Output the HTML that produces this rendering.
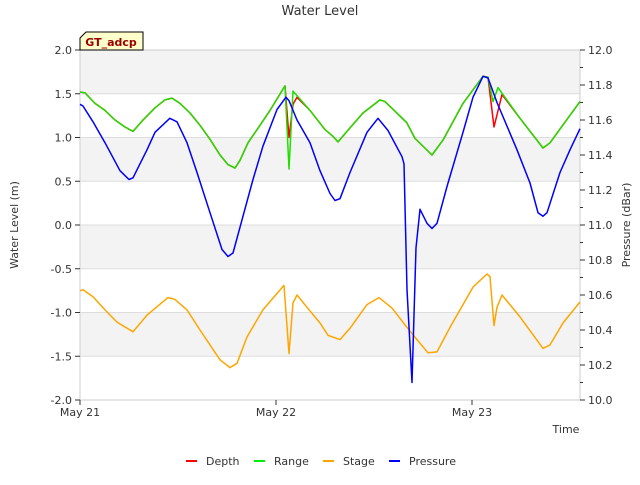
<!DOCTYPE html>
<html><head><meta charset="utf-8"><style>
body{margin:0;background:#fff}
svg text{font-family:"DejaVu Sans","Liberation Sans",sans-serif;}
</style></head><body>
<svg id="c" width="640" height="480" viewBox="0 0 640 480" xmlns="http://www.w3.org/2000/svg">
<text x="320" y="15" text-anchor="middle" font-size="13" fill="#333">Water Level</text>
<g id="bands"></g>
<g id="grid"></g>
<rect x="80" y="50" width="500" height="350" fill="none" stroke="#ccc"/>
<g id="axes"></g>
<g id="series"></g>
<g>
<path d="M86 32 L143 32 L143 50 L80 50 L80 38 Z" fill="#ffffcc" stroke="#000"/>
<text x="111" y="46" text-anchor="middle" font-size="11" font-weight="bold" fill="#990000">GT_adcp</text>
</g>
<text transform="translate(18,225) rotate(-90)" text-anchor="middle" font-size="11" fill="#333">Water Level (m)</text>
<text transform="translate(630,225) rotate(-90)" text-anchor="middle" font-size="11" fill="#333">Pressure (dBar)</text>
<text x="566" y="433" text-anchor="middle" font-size="11" fill="#333">Time</text>
<g id="legend"></g>
</svg>
<script>
const xTickLabels=["May 21","May 22","May 23"];
const xTickHours=[0,24,48];
const yTicks=[-2.0,-1.5,-1.0,-0.5,0.0,0.5,1.0,1.5,2.0];
const y2Ticks=[10.0,10.2,10.4,10.6,10.8,11.0,11.2,11.4,11.6,11.8,12.0];
const rangeT=[0,0.61,1.84,3.06,4.29,5.51,6.49,7.71,9.18,10.4,11.27,12.24,13.47,14.69,15.92,17.14,18.12,18.98,19.59,20.57,22.04,23.27,25.1,25.59,26.08,28.16,30.0,31.0,31.59,33.06,34.65,36.73,37.35,40.0,41.02,43.1,44.45,46.9,49.35,49.96,50.57,51.18,53.88,56.69,57.55,61.22];
const rangeV=[1.52,1.51,1.39,1.31,1.2,1.12,1.07,1.2,1.34,1.43,1.45,1.39,1.28,1.14,0.98,0.8,0.69,0.65,0.74,0.94,1.14,1.31,1.59,0.64,1.53,1.31,1.09,1.01,0.95,1.11,1.28,1.43,1.41,1.17,0.99,0.8,0.97,1.39,1.7,1.69,1.41,1.57,1.22,0.88,0.94,1.41];
const depthT=[0,0.61,1.84,3.06,4.29,5.51,6.49,7.71,9.18,10.4,11.27,12.24,13.47,14.69,15.92,17.14,18.12,18.98,19.59,20.57,22.04,23.27,25.1,25.59,26.08,26.57,28.16,30.0,31.0,31.59,33.06,34.65,36.73,37.35,40.0,41.02,43.1,44.45,46.9,49.35,49.96,50.69,51.67,53.88,56.69,57.55,61.22];
const depthV=[1.52,1.51,1.39,1.31,1.2,1.12,1.07,1.2,1.34,1.43,1.45,1.39,1.28,1.14,0.98,0.8,0.69,0.65,0.74,0.94,1.14,1.31,1.59,1.0,1.38,1.46,1.31,1.09,1.01,0.95,1.11,1.28,1.43,1.41,1.17,0.99,0.8,0.97,1.39,1.7,1.69,1.12,1.49,1.22,0.88,0.94,1.41];
const stageT=[0,0.37,1.59,3.06,4.53,6.49,8.2,10.78,11.63,13.1,14.69,17.14,18.37,19.22,20.45,22.4,24.98,25.59,26.08,26.57,27.8,29.39,30.37,31.84,33.06,35.14,36.61,38.2,40.04,41.27,42.61,43.71,45.31,48.12,49.84,50.2,50.69,51.06,51.67,53.88,56.69,57.55,59.14,61.22];
const stageV=[-0.75,-0.74,-0.82,-0.97,-1.11,-1.22,-1.03,-0.83,-0.85,-0.97,-1.2,-1.54,-1.63,-1.58,-1.28,-0.97,-0.69,-1.47,-0.89,-0.8,-0.94,-1.12,-1.26,-1.31,-1.18,-0.91,-0.83,-0.95,-1.17,-1.31,-1.46,-1.45,-1.17,-0.71,-0.56,-0.59,-1.15,-0.94,-0.8,-1.05,-1.41,-1.37,-1.12,-0.88];
const presT=[0,0.37,1.59,3.06,4.9,6.0,6.49,8.2,9.18,11.0,11.88,13.1,14.33,15.92,17.39,18.12,18.73,19.96,21.18,22.4,24.12,25.22,25.59,26.57,28.16,29.39,30.61,31.22,31.84,33.06,35.14,36.49,37.71,39.43,39.67,40.04,40.65,41.14,41.63,42.49,43.1,43.71,44.94,46.9,48.12,49.35,49.96,51.06,53.51,55.1,56.08,56.69,57.18,58.78,60.0,61.22];
const presV=[11.69,11.68,11.59,11.47,11.31,11.26,11.27,11.43,11.53,11.61,11.59,11.47,11.3,11.07,10.86,10.82,10.84,11.05,11.26,11.45,11.66,11.73,11.71,11.6,11.47,11.31,11.18,11.14,11.15,11.3,11.53,11.61,11.54,11.39,11.35,10.63,10.1,10.87,11.09,11.01,10.98,11.01,11.22,11.53,11.73,11.85,11.84,11.7,11.43,11.24,11.07,11.05,11.07,11.3,11.43,11.55];

const NS="http://www.w3.org/2000/svg";
const X=h=>80+h*196/24;
const Y=v=>225-v*87.5;
const Y2=v=>400-(v-10)*175;
function mk(tag,attrs,parent){const e=document.createElementNS(NS,tag);for(const k in attrs)e.setAttribute(k,attrs[k]);document.getElementById(parent).appendChild(e);return e;}
for(let i=0;i<4;i++){const v=2.0-i;
const r=mk('rect',{x:80,y:Y(v),width:500,height:Y(v-0.5)-Y(v),fill:'#f3f3f3'},'bands');

}
yTicks.forEach(v=>{
const l=mk('line',{x1:80,x2:580,y1:Y(v),y2:Y(v),stroke:'#ddd'},'grid');


mk('line',{x1:75,x2:80,y1:Y(v),y2:Y(v),stroke:'#333'},'axes');
const t=mk('text',{x:72,y:Y(v)+4,'text-anchor':'end','font-size':11,fill:'#333'},'axes');
t.textContent=v.toFixed(1);

});
y2Ticks.forEach(v=>{
mk('line',{x1:580,x2:585,y1:Y2(v),y2:Y2(v),stroke:'#333'},'axes');
const t=mk('text',{x:588,y:Y2(v)+4,'font-size':11,fill:'#333'},'axes');
t.textContent=v.toFixed(1);

});
for(let i=0;i<10;i++){const v=10.1+i*0.2;mk('line',{x1:580,x2:583,y1:Y2(v),y2:Y2(v),stroke:'#333'},'axes');}
xTickHours.forEach((h,i)=>{
mk('line',{x1:X(h),x2:X(h),y1:400,y2:405,stroke:'#333'},'axes');
const t=mk('text',{x:X(h),y:416,'text-anchor':'middle','font-size':11,fill:'#333'},'axes');
t.textContent=xTickLabels[i];

});
function line(T,V,yf,color,name){
const d=T.map((t,i)=>(i?'L':'M')+X(t).toFixed(1)+' '+yf(V[i]).toFixed(1)).join(' ');
const p=mk('path',{d:d,fill:'none',stroke:color,'stroke-width':1.5,'stroke-linejoin':'round'},'series');

}
line(depthT,depthV,Y,'#ff0000','depth-line');
line(rangeT,rangeV,Y,'#22dd00','range-line');
line(stageT,stageV,Y,'#ffa500','stage-line');
line(presT,presV,Y2,'#0000ff','pressure-line');
const leg=[["Depth","#ff0000",186],["Range","#00ee00",254],["Stage","#ffa500",323],["Pressure","#0000ff",389]];
leg.forEach(([n,c,x])=>{
mk('line',{x1:x,x2:x+11,y1:461,y2:461,stroke:c,'stroke-width':2},'legend');
const t=mk('text',{x:x+20,y:465,'font-size':11,fill:'#333'},'legend');
t.textContent=n;

});
</script>
</body></html>
